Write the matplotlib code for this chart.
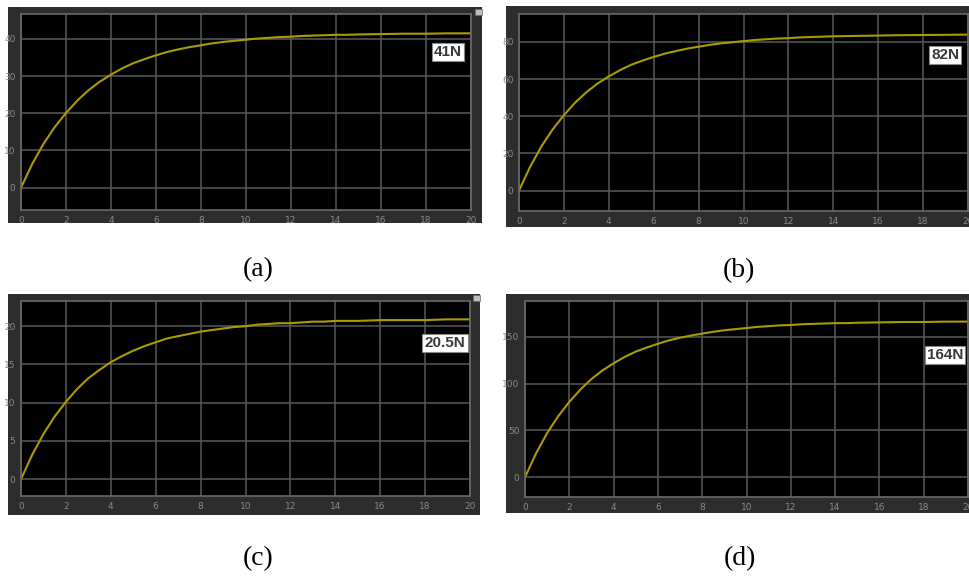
import matplotlib
matplotlib.use('Agg')
import matplotlib.pyplot as plt
from matplotlib.patches import Rectangle
import logging

logging.basicConfig(level=logging.INFO, format='%(asctime)s - %(levelname)s - %(message)s')

# time axis (s)
TIME = [0, 0.5, 1, 1.5, 2, 2.5, 3, 3.5, 4, 4.5, 5, 5.5, 6, 6.5, 7, 7.5, 8, 8.5, 9, 9.5,
        10, 10.5, 11, 11.5, 12, 12.5, 13, 13.5, 14, 14.5, 15, 16, 17, 18, 19, 20]

# force responses
FORCE_A = [0, 6.4, 11.8, 16.3, 20.1, 23.4, 26.2, 28.5, 30.4, 32.1, 33.5, 34.6, 35.6, 36.5, 37.2,
           37.8, 38.3, 38.8, 39.2, 39.5, 39.8, 40.1, 40.3, 40.5, 40.6, 40.8, 40.9, 41.0, 41.1,
           41.1, 41.2, 41.3, 41.4, 41.4, 41.5, 41.5]
FORCE_B = [0, 12.9, 23.8, 32.9, 40.6, 47.3, 52.9, 57.6, 61.4, 64.8, 67.7, 69.9, 71.9, 73.7, 75.1,
           76.4, 77.4, 78.4, 79.2, 79.8, 80.4, 81.0, 81.4, 81.8, 82.0, 82.4, 82.6, 82.8, 83.0,
           83.1, 83.2, 83.4, 83.6, 83.7, 83.8, 83.9]
FORCE_C = [0, 3.2, 5.9, 8.2, 10.1, 11.8, 13.2, 14.3, 15.3, 16.1, 16.8, 17.4, 17.9, 18.4, 18.7,
           19.0, 19.3, 19.5, 19.7, 19.9, 20.0, 20.2, 20.3, 20.4, 20.4, 20.5, 20.6, 20.6, 20.7,
           20.7, 20.7, 20.8, 20.8, 20.8, 20.9, 20.9]
FORCE_D = [0, 25.6, 47.2, 65.2, 80.4, 93.6, 104.8, 114.0, 121.6, 128.4, 134.0, 138.4, 142.4,
           146.0, 148.8, 151.2, 153.2, 155.2, 156.8, 158.0, 159.2, 160.4, 161.2, 162.0, 162.4,
           163.2, 163.6, 164.0, 164.4, 164.4, 164.8, 165.2, 165.6, 165.6, 166.0, 166.0]

X_TICKS = [0, 2, 4, 6, 8, 10, 12, 14, 16, 18, 20]
Y_TICKS_A = [0, 10, 20, 30, 40]
Y_TICKS_B = [0, 20, 40, 60, 80]
Y_TICKS_C = [0, 5, 10, 15, 20]
Y_TICKS_D = [0, 50, 100, 150]

LABELS = ['41N', '82N', '20.5N', '164N']
CAPTIONS = ['(a)', '(b)', '(c)', '(d)']

W, H = 969, 580


def px_box(x0, y0, x1, y1):
    r"""Convert a pixel box (top-left origin) to figure fractions."""
    return [x0 / W, 1 - y1 / H, (x1 - x0) / W, (y1 - y0) / H]


def scope_panel(fig, frame, inner, force, yticks, ylim, label, label_xy, caption, caption_xy, icon=None):
    r"""
    Draw one Simulink style scope panel.
    """
    # grey scope frame
    fax = fig.add_axes(px_box(*frame))
    fax.set_facecolor('#2d2d2d')
    fax.set_xticks([])
    fax.set_yticks([])
    for s in fax.spines.values():
        s.set_visible(False)

    ax = fig.add_axes(px_box(*inner))
    ax.set_facecolor('black')
    ax.plot(TIME, force, color='#aa9c00', lw=1.5)
    ax.set_xlim(0, 20)
    ax.set_ylim(*ylim)
    ax.set_xticks(X_TICKS)
    ax.set_yticks(yticks)
    ax.grid(True, color='#5a5a5a', lw=1.1)
    ax.tick_params(length=0, labelsize=6.5, colors='#8a8a8a', pad=4)
    for s in ax.spines.values():
        s.set_color('#6a6a6a')
        s.set_linewidth(1.2)

    fig.text(label_xy[0] / W, 1 - label_xy[1] / H, label, fontsize=11, fontweight='bold',
             family='Liberation Sans', color='#3a3a3a', ha='center', va='center',
             bbox=dict(boxstyle='square,pad=0.15', facecolor='white', edgecolor='#888888', lw=0.8))

    fig.text(caption_xy[0] / W, 1 - caption_xy[1] / H, caption, fontsize=20,
             family='Liberation Serif', color='black', ha='center', va='center')

    if icon is not None:
        fig.patches.append(Rectangle((icon[0] / W, 1 - icon[1] / H), 7 / W, 6 / H,
                                     transform=fig.transFigure, facecolor='#bdbdbd',
                                     edgecolor='#6a6a6a', lw=0.5))


def main():
    fig = plt.figure(figsize=(9.69, 5.80), dpi=100)
    fig.patch.set_facecolor('white')

    scope_panel(fig, (8, 7, 482, 223), (21, 14, 471, 210), FORCE_A, Y_TICKS_A, (-6, 46.7),
                LABELS[0], (448, 52), CAPTIONS[0], (258, 270), icon=(475, 15))
    scope_panel(fig, (506, 6, 975, 227), (519, 14, 968, 211), FORCE_B, Y_TICKS_B, (-11, 95),
                LABELS[1], (945, 55), CAPTIONS[1], (739, 271))
    scope_panel(fig, (8, 294, 480, 515), (21, 301, 470, 496), FORCE_C, Y_TICKS_C, (-2.2, 23.3),
                LABELS[2], (445, 343), CAPTIONS[2], (258, 559), icon=(473, 301))
    scope_panel(fig, (506, 294, 975, 513), (525, 301, 968, 497), FORCE_D, Y_TICKS_D, (-21, 188),
                LABELS[3], (945, 355), CAPTIONS[3], (740, 559))

    fig.savefig('out.png', dpi=100)
    plt.close(fig)
    logging.info("Saved out.png")


if __name__ == "__main__":
    main()
